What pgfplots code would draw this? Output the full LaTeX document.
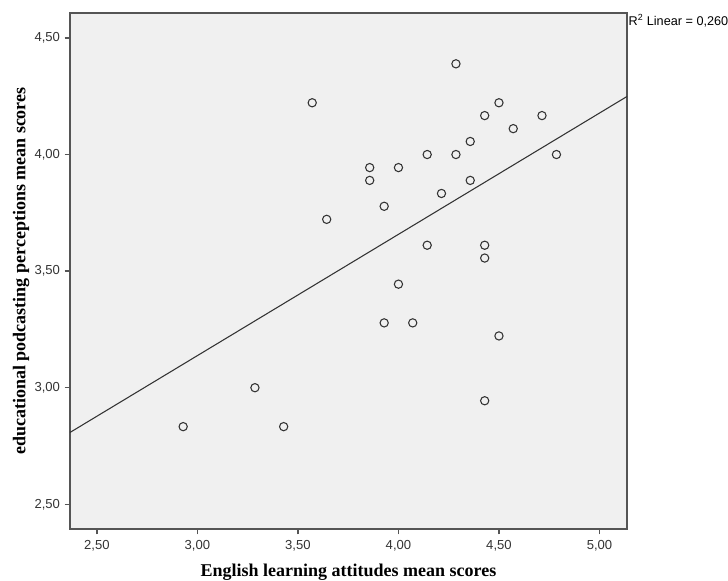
\documentclass[border=0pt]{standalone}
\usepackage{pgfplots}
\pgfplotsset{compat=1.18}
\usepackage{fontspec}
\setmainfont{Liberation Sans}
\newfontfamily\serifb{Liberation Serif}
\definecolor{bg}{HTML}{F0F0F0}
\definecolor{frame}{HTML}{555555}
\definecolor{mk}{HTML}{333333}
\begin{document}
\begin{tikzpicture}
\useasboundingbox (-52.5pt,-39pt) rectangle (493.5pt,396.75pt);
\begin{axis}[
  scale only axis,
  width=417.75pt, height=387pt,
  xmin=2.366, xmax=5.137, ymin=2.394, ymax=4.607,
  xtick={2.5,3,3.5,4,4.5,5},
  ytick={2.5,3,3.5,4,4.5},
  axis background/.style={fill=bg},
  axis line style={frame, line width=1.1pt},
  tick style={frame, line width=1pt},
  tick align=outside,
  major tick length=4pt,
  xtick pos=bottom, ytick pos=left,
  /pgf/number format/.cd, use comma, fixed, fixed zerofill, precision=2, assume math mode=true,
  /pgfplots/.cd,
  tick label style={font=\fontsize{9.8}{11}\selectfont, text=black!80},
  xticklabel style={yshift=-1pt},
  xlabel={\serifb\bfseries English learning attitudes mean scores},
  ylabel={\serifb\bfseries educational podcasting perceptions mean scores},
  label style={font=\fontsize{13.5}{15}\selectfont},
  xlabel style={yshift=-2.5pt},
  ylabel style={yshift=-3pt},
  clip=false,
]
\addplot[only marks, mark=o, mark size=3.1pt, mark options={draw=mk, line width=0.8pt}] coordinates {
(2.929,2.833) (3.286,3.000) (3.429,2.833) (3.571,4.222) (3.643,3.722)
(3.857,3.944) (3.857,3.889) (4.000,3.944) (3.929,3.778) (4.143,4.000)
(4.214,3.833) (4.143,3.611) (4.000,3.444) (3.929,3.278) (4.071,3.278)
(4.286,4.389) (4.286,4.000) (4.357,4.056) (4.357,3.889) (4.429,4.167)
(4.500,4.222) (4.571,4.111) (4.714,4.167) (4.786,4.000) (4.429,3.611)
(4.429,3.556) (4.500,3.222) (4.429,2.944)
};
\addplot[draw=mk, line width=0.8pt] coordinates {(2.366,2.808) (5.137,4.249)};
\node[anchor=north west, font=\fontsize{9.5}{11}\selectfont, inner sep=1pt] at (rel axis cs:1,1) {R\textsuperscript{2} Linear = 0,260};
\end{axis}
\end{tikzpicture}
\end{document}
